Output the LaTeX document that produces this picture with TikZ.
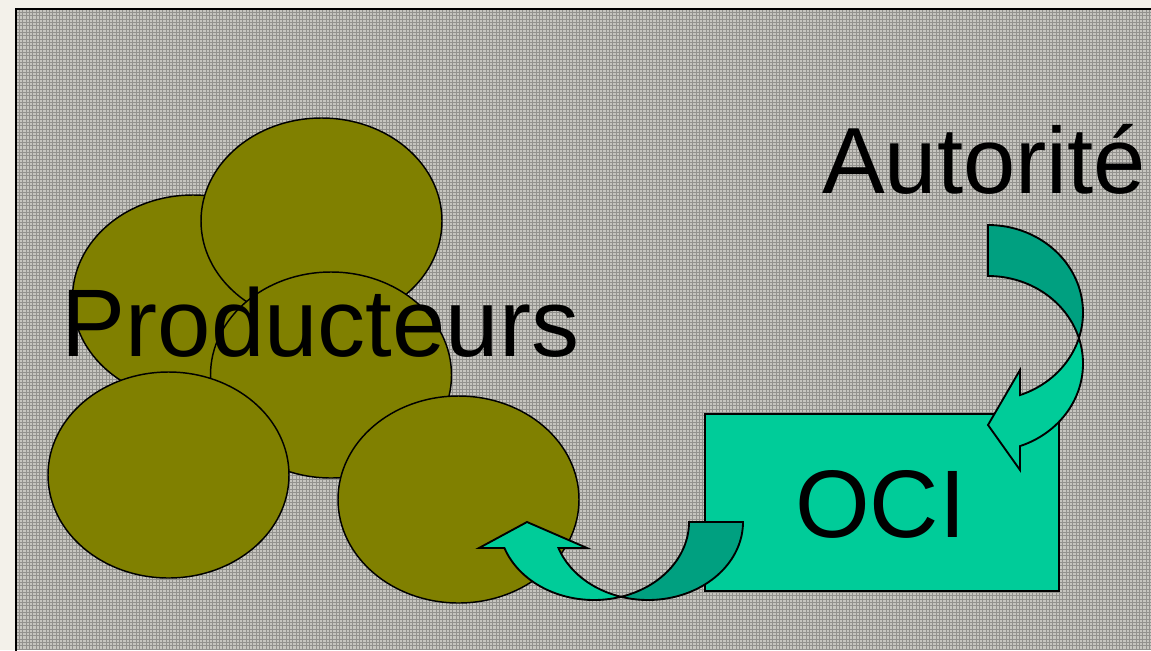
\documentclass[tikz,border=0pt]{standalone}
\usepackage{fontspec}
\setmainfont{Liberation Sans}
\definecolor{pagebg}{HTML}{F3F1EA}
\definecolor{panelbg}{HTML}{C6C5BF}
\definecolor{gridln}{HTML}{92918D}
\definecolor{olive}{HTML}{808000}
\definecolor{lightgreen}{HTML}{00CC99}
\definecolor{darkgreen}{HTML}{00A080}
\tikzset{
  prod/.style={fill=olive, draw=black, line width=1.1pt},
  arrowfront/.style={fill=lightgreen, draw=black, line width=1.4pt},
  arrowback/.style={fill=darkgreen, draw=black, line width=1.4pt},
  bigtext/.style={inner sep=0pt, anchor=base west, font=\fontsize{72}{86}\selectfont, text=black},
}
\begin{document}
\begin{tikzpicture}[x=0.75pt, y=-0.75pt]
\useasboundingbox (0,0) rectangle (1151,650);
\fill[pagebg] (0,0) rectangle (1151,650);
% panel
\fill[panelbg] (16,9) rectangle (1151,650);
\foreach \i in {0,...,341} \draw[gridln, line width=0.45pt] ({16+\i*10/3},9) -- ({16+\i*10/3},650);
\foreach \j in {0,...,193} \draw[gridln, line width=0.45pt] (16,{9+\j*10/3}) -- (1151,{9+\j*10/3});
\draw[black, line width=1.6pt] (16,660) -- (16,9) -- (1160,9);
% producer ellipses
\path[prod] (193,298) ellipse [x radius=120.5, y radius=103];
\path[prod] (321.5,221) ellipse [x radius=120.5, y radius=103];
\path[prod] (331,375) ellipse [x radius=120.5, y radius=103];
\path[prod] (168.5,475) ellipse [x radius=120.5, y radius=103];
\path[prod] (458.5,499.5) ellipse [x radius=120.5, y radius=103.5];
\node[bigtext] (producteurs) at (61.5,356) {Producteurs};
% OCI box
\path[fill=lightgreen, draw=black, line width=1.5pt] (705,414) rectangle (1059,591);
\node[bigtext] (oci) at (795,537) {OCI};
% Authority label
\node[bigtext, font=\fontsize{70.5}{84}\selectfont] (autorite) at (822,193) {Autorité};
% curved arrow Autorite -> OCI
\path[arrowback]
  plot[domain=-90:16.9, samples=50] ({988+95*cos(\x)},{312.6+87.6*sin(\x)})
  -- plot[domain=-16.9:-90, samples=50] ({988+95*cos(\x)},{363.6+87.6*sin(\x)})
  -- cycle;
\path[arrowfront]
  plot[domain=16.9:70.3, samples=40] ({988+95*cos(\x)},{312.6+87.6*sin(\x)})
  -- (1020,370) -- (988,425) -- (1020,470)
  -- plot[domain=70.3:-16.9, samples=50] ({988+95*cos(\x)},{363.6+87.6*sin(\x)})
  -- cycle;
% curved arrow OCI -> Producteurs
\path[arrowback]
  plot[domain=0:106.5, samples=50] ({648+95*cos(\x)},{522+78*sin(\x)})
  -- plot[domain=73.5:0, samples=50] ({594+95*cos(\x)},{522+78*sin(\x)})
  -- cycle;
\path[arrowfront]
  plot[domain=73.5:160.5, samples=50] ({594+95*cos(\x)},{522+78*sin(\x)})
  -- (479,548) -- (527,522) -- (587,548)
  -- plot[domain=160.5:106.5, samples=40] ({648+95*cos(\x)},{522+78*sin(\x)})
  -- cycle;
\end{tikzpicture}
\end{document}
